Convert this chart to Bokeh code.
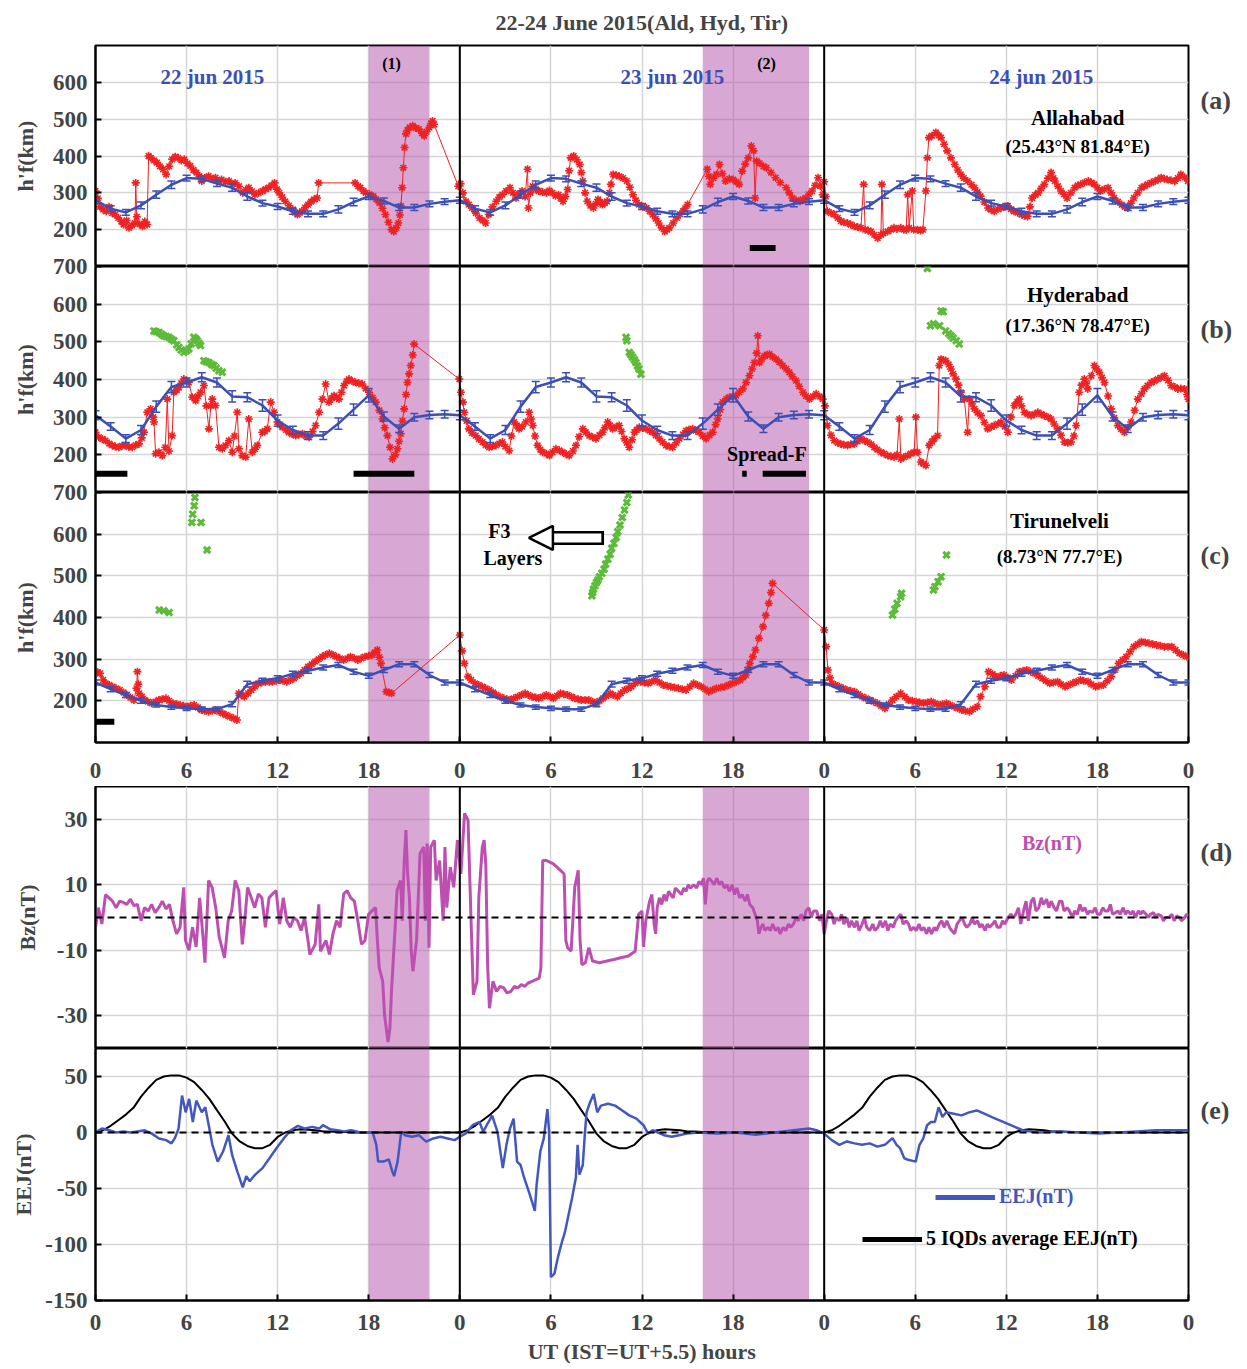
from bokeh.plotting import figure
from bokeh.models import (ColumnDataSource, Whisker, TeeHead, BoxAnnotation, Span, Label,
                          FixedTicker, Range1d, Legend, LegendItem, Arrow, NormalHead, LinearAxis)
from bokeh.layouts import column
from bokeh.embed import file_html
from bokeh.resources import INLINE

# ---------------- data ----------------
xticks = [0, 6, 12, 18, 24, 30, 36, 42, 48, 54, 60, 66, 72]
xtick_labels = ["0", "6", "12", "18", "0", "6", "12", "18", "0", "6", "12", "18", "0"]
day_bounds = [24, 48]
storm_start = [18, 40]
storm_end = [22, 47]
storm_names = ["(1)", "(2)"]
day_names = ["22 jun 2015", "23 jun 2015", "24 jun 2015"]
panel_tags = ["(a)", "(b)", "(c)", "(d)", "(e)"]

# quiet-day mean h'F (hourly, km) and error half-widths
ald_quiet = [280, 257, 247, 266, 295, 322, 340, 338, 325, 314, 290, 272, 263, 250, 243, 243, 255, 275, 290, 278, 260, 260, 270, 276]
ald_err = [8, 8, 8, 9, 10, 10, 8, 8, 8, 10, 10, 8, 8, 8, 8, 8, 10, 10, 8, 8, 8, 8, 8, 8]
hyd_quiet = [305, 275, 243, 266, 328, 380, 392, 406, 392, 355, 353, 331, 291, 266, 251, 251, 283, 320, 358, 302, 269, 300, 306, 308]
hyd_err = [12, 10, 10, 12, 15, 15, 12, 12, 12, 15, 12, 15, 15, 10, 10, 10, 15, 15, 18, 12, 10, 10, 10, 10]
tir_quiet = [244, 228, 214, 200, 190, 185, 182, 180, 180, 192, 240, 248, 254, 265, 272, 280, 286, 270, 260, 274, 288, 288, 262, 244]
tir_err = [6, 6, 6, 6, 5, 5, 5, 5, 5, 6, 7, 6, 6, 6, 6, 6, 6, 6, 6, 6, 6, 6, 6, 6]

# observed h'F, Allahabad (hour, km)
ald_obs = [(0.0,305),(0.15,285),(0.3,262),(0.5,255),(0.7,250),(0.9,262),(1.1,245),(1.3,241),(1.5,232),(1.7,222),(1.85,214),(2.05,225),(2.2,205),(2.4,212),(2.6,218),(2.65,327),(2.72,235),(2.9,215),(3.1,209),(3.25,222),(3.4,214),(3.5,400),(3.65,395),(3.85,388),(4.05,382),(4.25,372),(4.45,364),(4.65,350),(4.85,372),(5.05,391),(5.25,398),(5.45,395),(5.65,388),(5.85,391),(6.05,380),(6.25,373),(6.45,362),(6.65,355),(6.85,345),(7.0,332),(7.2,340),(7.45,345),(7.7,338),(7.9,341),(8.1,332),(8.3,336),(8.55,330),(8.8,332),(9.0,324),(9.2,327),(9.45,318),(9.7,300),(9.9,308),(10.1,314),(10.3,304),(10.5,295),(10.75,300),(11.0,305),(11.2,310),(11.4,314),(11.6,320),(11.8,327),(11.95,310),(12.1,300),(12.3,288),(12.5,277),(12.75,265),(13.0,255),(13.15,246),(13.3,241),(13.45,246),(13.6,250),(13.8,260),(14.0,268),(14.2,276),(14.4,282),(14.6,286),(14.7,327),(17.1,327),(17.3,318),(17.45,314),(17.65,305),(17.8,300),(18.05,296),(18.3,291),(18.5,282),(18.7,273),(18.9,258),(19.1,241),(19.3,220),(19.5,200),(19.65,195),(19.8,205),(19.95,218),(20.05,240),(20.12,264),(20.2,314),(20.28,368),(20.36,423),(20.45,460),(20.55,470),(20.7,478),(20.9,482),(21.1,476),(21.3,473),(21.5,462),(21.65,455),(21.8,466),(22.0,477),(22.1,488),(22.2,495),(22.3,486),(23.9,318),
           (24.05,325),(24.2,300),(24.4,277),(24.6,268),(24.8,259),(25.05,245),(25.3,232),(25.5,225),(25.7,218),(25.9,241),(26.15,262),(26.4,277),(26.6,288),(26.8,295),(27.05,305),(27.3,314),(27.5,300),(27.7,286),(27.9,296),(28.1,305),(28.3,290),(28.46,364),(28.52,259),(28.65,300),(28.8,318),(29.0,310),(29.2,305),(29.45,302),(29.7,300),(29.9,306),(30.1,300),(30.3,292),(30.5,295),(30.65,285),(30.8,277),(30.95,290),(31.1,309),(31.2,360),(31.3,395),(31.5,400),(31.7,390),(31.9,377),(32.0,355),(32.1,332),(32.25,300),(32.4,277),(32.6,265),(32.8,259),(32.95,270),(33.1,282),(33.25,275),(33.4,268),(33.55,272),(33.7,277),(33.85,300),(33.95,323),(34.1,350),(34.3,348),(34.5,345),(34.75,340),(35.0,332),(35.2,315),(35.4,295),(35.6,280),(35.8,268),(36.05,262),(36.3,259),(36.5,250),(36.7,241),(36.9,230),(37.1,218),(37.3,205),(37.5,195),(37.65,200),(37.8,205),(38.05,218),(38.3,232),(38.5,242),(38.7,250),(38.85,258),(39.0,268),(40.3,364),(40.4,345),(40.5,323),(40.7,340),(40.9,350),(41.1,377),(41.3,352),(41.5,332),(41.75,338),(42.0,336),(42.2,330),(42.4,323),(42.6,359),(42.8,378),(43.0,395),(43.2,427),(43.35,414),(43.45,286),(43.55,386),(43.75,380),(44.0,372),(44.2,368),(44.5,355),(44.8,341),(45.1,328),(45.5,314),(45.7,300),(45.9,286),(46.15,280),(46.4,277),(46.6,282),(46.8,286),(47.0,296),(47.2,305),(47.4,320),(47.6,341),(47.75,318),(47.9,295),
           (48.0,330),(48.1,290),(48.2,250),(48.45,245),(48.66,241),(48.9,232),(49.1,223),(49.3,220),(49.54,218),(49.75,214),(49.98,209),(50.2,207),(50.42,205),(50.6,323),(50.7,200),(50.9,198),(51.08,195),(51.3,186),(51.52,177),(51.74,186),(51.8,323),(51.9,190),(52.18,195),(52.4,200),(52.6,205),(52.8,202),(53.05,205),(53.25,200),(53.4,200),(53.5,295),(53.6,205),(53.8,305),(53.9,200),(54.15,200),(54.35,198),(54.5,200),(54.7,305),(54.8,395),(54.9,450),(55.1,455),(55.36,464),(55.55,456),(55.7,450),(55.9,432),(56.1,414),(56.35,395),(56.6,377),(56.8,362),(57.0,350),(57.2,340),(57.45,332),(57.7,322),(57.9,314),(58.1,302),(58.3,291),(58.55,275),(58.8,259),(59.0,254),(59.2,250),(59.45,256),(59.65,259),(59.9,262),(60.1,264),(60.3,256),(60.5,250),(60.75,246),(61.0,241),(61.2,238),(61.4,236),(61.55,262),(61.7,286),(61.9,294),(62.1,300),(62.3,312),(62.5,323),(62.75,340),(62.95,355),(63.1,340),(63.2,332),(63.4,318),(63.6,305),(63.8,296),(64.0,286),(64.25,300),(64.5,314),(64.7,320),(64.9,323),(65.15,328),(65.4,332),(65.6,328),(65.8,323),(66.0,314),(66.2,305),(66.45,310),(66.7,314),(66.9,300),(67.1,286),(67.35,276),(67.6,268),(67.8,262),(68.0,259),(68.2,272),(68.4,286),(68.65,300),(68.9,314),(69.1,318),(69.3,323),(69.55,328),(69.8,332),(70.0,336),(70.2,341),(70.4,338),(70.6,336),(70.85,334),(71.1,332),(71.3,340),(71.5,350),(71.75,342),(71.96,332)]

# observed h'F, Hyderabad
hyd_obs = [(0.0,260),(0.22,247),(0.45,242),(0.66,238),(0.9,230),(1.1,225),(1.3,222),(1.54,220),(1.75,224),(1.98,225),(2.2,221),(2.42,220),(2.65,226),(2.86,229),(3.05,245),(3.19,260),(3.41,313),(3.63,322),(3.8,300),(3.85,287),(3.96,203),(4.18,207),(4.4,198),(4.6,220),(4.73,348),(4.84,210),(5.05,251),(5.16,366),(5.35,372),(5.5,379),(5.65,390),(5.82,401),(6.0,396),(6.15,392),(6.37,353),(6.59,344),(6.75,356),(6.92,366),(7.14,384),(7.3,330),(7.47,269),(7.6,330),(7.69,348),(7.91,331),(8.13,220),(8.35,216),(8.57,225),(8.79,238),(9.01,207),(9.15,250),(9.34,313),(9.45,216),(9.67,198),(9.89,194),(10.1,295),(10.33,207),(10.5,215),(10.66,225),(10.99,260),(11.15,262),(11.32,269),(11.54,340),(11.76,313),(11.98,287),(12.15,280),(12.31,273),(12.55,266),(12.75,260),(12.95,255),(13.19,251),(13.4,254),(13.63,256),(13.85,250),(14.07,247),(14.3,262),(14.5,278),(14.73,313),(14.95,348),(15.16,388),(15.38,340),(15.55,350),(15.71,357),(15.9,352),(16.04,348),(16.2,366),(16.37,384),(16.55,395),(16.7,401),(16.9,396),(17.14,392),(17.35,390),(17.58,388),(17.8,376),(18.02,366),(18.25,352),(18.46,340),(18.7,318),(18.9,295),(19.05,272),(19.23,251),(19.4,220),(19.56,189),(19.75,200),(19.89,216),(20.0,236),(20.11,256),(20.22,290),(20.33,322),(20.45,360),(20.55,392),(20.66,415),(20.77,437),(20.9,465),(20.99,494),(23.96,401),
           (24.07,366),(24.2,340),(24.29,313),(24.45,290),(24.6,269),(24.8,258),(25.05,251),(25.25,242),(25.5,234),(25.7,226),(25.93,220),(26.15,223),(26.37,225),(26.6,230),(26.8,234),(27.0,222),(27.25,211),(27.4,250),(27.58,287),(27.75,278),(27.9,269),(28.1,275),(28.35,287),(28.57,313),(28.7,295),(28.8,278),(28.95,250),(29.12,225),(29.3,214),(29.45,207),(29.7,203),(29.9,198),(30.1,207),(30.33,216),(30.55,212),(30.77,207),(31.0,202),(31.2,198),(31.45,210),(31.65,225),(31.85,248),(32.1,269),(32.3,260),(32.53,251),(32.75,247),(32.97,243),(33.2,252),(33.4,260),(33.55,272),(33.74,287),(33.9,278),(34.07,269),(34.3,274),(34.5,278),(34.65,262),(34.84,243),(35.0,232),(35.16,220),(35.35,240),(35.5,260),(35.65,266),(35.82,273),(36.05,271),(36.26,269),(36.5,264),(36.7,260),(36.9,252),(37.14,243),(37.35,234),(37.58,225),(37.8,222),(38.02,220),(38.25,232),(38.46,243),(38.7,254),(38.9,264),(39.1,267),(39.34,269),(39.55,264),(39.78,260),(40.0,250),(40.22,243),(40.45,252),(40.66,260),(40.85,280),(40.99,295),(41.15,320),(41.32,340),(41.55,348),(41.76,353),(42.0,355),(42.2,357),(42.4,366),(42.64,375),(42.85,392),(43.08,410),(43.25,428),(43.4,445),(43.55,470),(43.63,516),(43.74,445),(43.9,455),(44.07,463),(44.25,466),(44.4,467),(44.6,460),(44.84,454),(45.05,446),(45.27,437),(45.5,428),(45.71,419),(45.9,408),(46.15,397),(46.35,382),(46.6,366),(46.8,356),(47.03,348),(47.25,355),(47.47,362),(47.7,355),(47.9,348),
           (48.05,330),(48.22,278),(48.45,252),(48.66,238),(48.9,232),(49.1,229),(49.3,227),(49.54,225),(49.75,228),(49.98,229),(50.2,236),(50.42,243),(50.65,238),(50.86,234),(51.1,228),(51.3,220),(51.5,214),(51.74,207),(51.95,203),(52.18,198),(52.4,196),(52.6,194),(52.8,200),(52.95,295),(53.05,189),(53.25,194),(53.5,198),(53.7,203),(53.93,207),(54.04,300),(54.15,207),(54.37,181),(54.55,176),(54.7,172),(54.92,225),(55.1,235),(55.25,243),(55.47,251),(55.58,437),(55.7,454),(55.85,452),(56.0,450),(56.2,440),(56.35,428),(56.5,415),(56.68,401),(56.85,385),(57.0,366),(57.23,348),(57.45,260),(57.56,348),(57.75,335),(57.9,322),(58.1,312),(58.33,304),(58.55,286),(58.77,269),(59.0,274),(59.2,278),(59.45,282),(59.65,287),(59.9,275),(60.1,260),(60.3,300),(60.53,331),(60.7,340),(60.86,348),(61.0,330),(61.19,313),(61.4,308),(61.63,304),(61.85,308),(62.07,313),(62.3,308),(62.5,304),(62.75,300),(62.95,295),(63.15,282),(63.38,269),(63.6,252),(63.82,234),(64.05,232),(64.26,234),(64.45,250),(64.6,278),(64.8,366),(64.95,385),(65.14,401),(65.25,390),(65.36,375),(65.6,410),(65.8,437),(65.95,428),(66.13,419),(66.3,405),(66.46,392),(66.7,356),(66.9,322),(67.1,298),(67.34,278),(67.55,268),(67.78,260),(68.0,272),(68.22,287),(68.45,318),(68.66,348),(68.9,362),(69.1,375),(69.3,384),(69.54,392),(69.75,396),(69.98,401),(70.2,405),(70.42,410),(70.65,398),(70.86,384),(71.1,380),(71.3,375),(71.5,376),(71.74,375),(71.9,360),(72.0,348)]

# observed h'F, Tirunelveli
tir_obs = [(0.0,270),(0.15,268),(0.3,266),(0.5,250),(0.66,242),(0.9,238),(1.12,234),(1.35,230),(1.6,226),(1.85,220),(2.06,214),(2.3,208),(2.53,202),(2.7,230),(2.76,270),(2.82,240),(2.88,218),(3.05,210),(3.23,202),(3.45,198),(3.7,194),(3.95,198),(4.17,202),(4.4,204),(4.64,206),(4.85,200),(5.1,194),(5.35,192),(5.57,190),(5.8,188),(6.04,186),(6.25,188),(6.5,190),(6.75,184),(6.98,178),(7.2,176),(7.45,174),(7.7,176),(7.9,178),(8.15,174),(8.38,170),(8.6,166),(8.85,162),(9.1,158),(9.32,154),(9.44,218),(9.6,214),(9.8,210),(10.05,218),(10.26,226),(10.5,234),(10.73,242),(10.95,244),(11.2,246),(11.45,246),(11.66,246),(11.9,248),(12.13,250),(12.35,248),(12.6,246),(12.85,250),(13.07,254),(13.3,260),(13.54,266),(13.77,274),(14.0,282),(14.25,288),(14.47,294),(14.7,300),(14.94,306),(15.15,310),(15.4,314),(15.65,310),(15.88,306),(16.1,302),(16.35,298),(16.6,302),(16.8,306),(17.05,302),(17.28,298),(17.5,302),(17.75,306),(18.0,308),(18.2,310),(18.4,316),(18.57,322),(18.7,305),(18.8,290),(19.16,222),(19.35,220),(19.5,218),(24.0,358),
           (24.15,320),(24.3,290),(24.54,258),(24.75,250),(25.0,242),(25.25,238),(25.48,234),(25.7,230),(25.95,226),(26.2,220),(26.4,214),(26.65,210),(26.9,206),(27.1,204),(27.35,202),(27.55,206),(27.8,210),(28.05,214),(28.3,218),(28.5,214),(28.76,210),(29.0,208),(29.2,206),(29.45,210),(29.7,214),(29.95,210),(30.16,206),(30.4,212),(30.63,218),(30.85,216),(31.1,214),(31.35,210),(31.57,206),(31.8,204),(32.0,202),(32.25,202),(32.5,202),(32.75,198),(33.0,194),(33.2,200),(33.44,206),(33.65,212),(33.9,218),(34.1,214),(34.38,210),(34.6,218),(34.85,226),(35.1,230),(35.3,234),(35.55,242),(35.8,250),(35.9,246),(36.15,244),(36.4,242),(36.65,246),(36.9,250),(37.15,244),(37.4,238),(37.65,236),(37.9,234),(38.15,232),(38.4,230),(38.65,228),(38.9,226),(39.15,234),(39.4,242),(39.65,238),(39.9,234),(40.15,228),(40.4,222),(40.65,226),(40.9,230),(41.2,232),(41.45,234),(41.7,238),(41.95,242),(42.2,246),(42.46,250),(42.65,256),(42.84,262),(43.0,275),(43.1,290),(43.3,306),(43.47,322),(43.7,350),(43.97,378),(44.15,405),(44.35,434),(44.5,460),(44.6,482),(48.0,370),
           (48.13,330),(48.25,274),(48.38,255),(48.5,242),(48.75,238),(49.0,234),(49.25,230),(49.5,226),(49.75,224),(50.0,222),(50.25,216),(50.5,210),(50.75,206),(51.0,202),(51.25,198),(51.5,194),(51.75,188),(52.0,182),(52.25,192),(52.5,202),(52.75,210),(53.04,218),(53.3,210),(53.54,202),(53.8,200),(54.05,198),(54.3,196),(54.55,194),(54.8,196),(55.05,198),(55.3,194),(55.56,190),(55.8,192),(56.06,194),(56.3,190),(56.56,186),(56.8,182),(57.07,178),(57.3,176),(57.57,174),(57.8,180),(58.08,186),(58.3,210),(58.58,234),(58.83,270),(59.1,264),(59.33,258),(59.6,260),(59.84,262),(60.1,256),(60.34,250),(60.6,260),(60.85,270),(61.1,272),(61.35,274),(61.6,270),(61.85,266),(62.1,260),(62.36,254),(62.6,248),(62.86,242),(63.1,244),(63.37,246),(63.6,240),(63.87,234),(64.1,238),(64.37,242),(64.6,246),(64.88,250),(65.1,248),(65.38,246),(65.6,240),(65.88,234),(66.1,236),(66.39,238),(66.65,248),(66.9,258),(67.15,274),(67.4,290),(67.65,298),(67.9,306),(68.15,318),(68.4,330),(68.65,336),(68.9,342),(69.15,340),(69.4,338),(69.65,336),(69.9,334),(70.15,332),(70.4,330),(70.65,330),(70.9,330),(71.15,322),(71.4,314),(71.65,310),(71.9,306)]

# F3 layer heights
hyd_f3 = [(3.85,529),(4.0,527),(4.18,525),(4.35,520),(4.5,516),(4.65,514),(4.84,512),(5.0,507),(5.16,503),(5.35,492),(5.5,485),(5.65,478),(5.82,472),(6.0,476),(6.15,481),(6.3,495),(6.48,512),(6.6,508),(6.7,503),(6.82,496),(6.92,490),(7.14,450),(7.3,447),(7.47,445),(7.65,440),(7.8,437),(7.95,430),(8.13,423),(8.35,419),
          (34.95,512),(35.0,503),(35.16,472),(35.27,466),(35.38,459),(35.5,452),(35.6,445),(35.7,436),(35.8,428),(35.93,414),
          (54.8,695),(55.0,543),(55.2,548),(55.6,543),(55.7,582),(55.85,580),(56.0,529),(56.2,522),(56.35,516),(56.5,510),(56.7,503),(56.9,494)]
tir_f3 = [(4.2,418),(4.5,416),(4.85,412),(6.55,688),(6.5,668),(6.4,648),(6.35,628),(6.95,628),(7.35,562),
          (32.7,452),(32.75,460),(32.8,468),(32.9,476),(33.0,484),(33.1,490),(33.2,498),(33.35,506),(33.5,516),(33.6,528),(33.75,540),(33.9,552),(34.0,566),(34.15,578),(34.3,592),(34.4,606),(34.55,622),(34.7,640),(34.85,658),(35.0,676),(35.1,694),
          (52.5,406),(52.65,420),(52.8,434),(53.04,450),(53.1,458),(55.2,466),(55.3,474),(55.5,486),(55.7,498),(56.06,550)]

# spread-F intervals (start hour, end hour)
ald_sf = [(43.1, 44.8)]
hyd_sf = [(0.0, 2.1), (17.0, 21.0), (42.6, 42.9), (43.95, 46.8)]
tir_sf = [(0.0, 1.24)]

# IMF Bz (hour, nT)
bz_obs = [(0.0,-3),(0.19,3),(0.42,-2),(0.66,7),(0.89,6),(1.12,5),(1.36,3),(1.59,5),(1.83,4.6),(2.06,4),(2.3,5.6),(2.53,3.6),(2.76,4),(3.0,-1),(3.23,3),(3.47,2),(3.7,4),(3.93,1.5),(4.17,3),(4.4,5),(4.64,2.6),(4.87,4),(5.1,-1),(5.34,-5),(5.57,-3),(5.81,9.2),(5.93,-7),(6.16,-10),(6.39,-3),(6.63,-9),(6.86,6),(7.1,-7),(7.21,-13.8),(7.45,11.3),(7.68,9.2),(7.92,3),(8.15,-6),(8.5,-12.3),(8.74,-1),(8.97,2),(9.2,11.3),(9.44,8.2),(9.67,-8.2),(9.79,-3),(10.02,9.2),(10.26,6),(10.49,3),(10.73,7.2),(10.96,6),(11.19,-3),(11.43,6),(11.66,7.2),(11.9,8.2),(12.13,-2),(12.37,6),(12.6,-1),(12.83,-3),(13.07,0),(13.3,-1),(13.54,-4),(13.77,0),(14.0,-7),(14.12,-11.3),(14.47,-8.2),(14.71,4),(14.82,-10.3),(15.18,-7),(15.41,-11.3),(15.64,-5),(15.88,-1),(16.11,-3),(16.35,7.2),(16.58,8.2),(16.81,6),(17.05,5),(17.28,-1),(17.52,-8.2),(17.75,-7),(17.99,1),(18.22,2),(18.45,3),(18.57,-7),(18.69,-15.4),(18.92,-19.5),(19.04,-29.7),(19.27,-38),(19.39,-34),(19.51,-21.5),(19.74,-3),(19.86,8.2),(20.09,11.3),(20.21,-1),(20.33,16.4),(20.45,26.7),(20.56,13.3),(20.68,6),(20.8,-10.3),(20.91,-16.4),(21.15,-7),(21.38,19.5),(21.62,21.5),(21.73,-1),(21.85,22.6),(21.97,-9.2),(22.08,21.5),(22.32,23.6),(22.44,11.3),(22.67,17.4),(22.9,-1),(23.02,21.5),(23.14,3),(23.37,15.4),(23.6,9.2),(23.84,23.6),
          (24.07,13.3),(24.31,31.8),(24.54,29.7),(24.66,11.3),(24.78,-7),(24.89,-23.6),(25.13,-19.5),(25.25,6),(25.48,21.5),(25.6,23.6),(25.71,16.4),(25.83,-14.4),(25.95,-27.7),(26.18,-19.5),(26.42,-22.6),(26.65,-21),(26.89,-21.5),(27.1,-23),(27.35,-22.6),(27.6,-21),(27.82,-21.5),(28.05,-20.5),(28.29,-21),(28.5,-20),(28.76,-19.5),(29.0,-19),(29.23,-18.5),(29.34,-15.4),(29.46,17.4),(29.7,17.4),(29.93,16.9),(30.16,16.4),(30.4,15.4),(30.63,14.4),(30.87,13.3),(30.98,-7),(31.1,-9.2),(31.33,-10.3),(31.57,9.2),(31.8,14.4),(31.92,-7),(32.04,-14.4),(32.27,-13.8),(32.5,-9.2),(32.74,-13.3),(33.2,-13.8),(33.68,-13.3),(34.15,-12.8),(34.6,-12.3),(35.08,-11.8),(35.55,-10.3),(35.78,1),
          (36.0,2),(36.1,-9),(36.25,-1),(36.5,5),(36.65,7),(36.8,-2),(36.9,-5),(37.0,3),(37.15,6),(37.3,4),(37.45,7),(37.6,5),(37.75,8),(37.9,7),(38.05,6),(38.2,9),(38.4,8),(38.6,7),(38.75,9),(38.9,8),(39.05,10),(39.2,9),(39.4,10),(39.6,9),(39.75,11),(39.9,10),(40.05,12),(40.17,4),(40.3,11),(40.42,12),(40.6,11),(40.75,10),(40.93,12),(41.1,10),(41.25,11),(41.43,9),(41.6,10),(41.75,8),(41.94,10),(42.1,7),(42.25,9),(42.44,6),(42.6,7),(42.8,5),(42.95,7),(43.1,4),(43.3,3),(43.45,1),(43.6,-1),(43.7,-5),(43.85,-3),(43.96,-2),(44.1,-4),(44.3,-3),(44.46,-4),(44.6,-2),(44.8,-4),(44.97,-3),(45.1,-5),(45.3,-3),(45.47,-4),(45.65,-2),(45.8,-3),(45.98,-2),(46.15,0),(46.3,-1),(46.48,1),(46.65,-1),(46.8,2),(46.99,3),(47.15,0),(47.3,2),(47.5,2),(47.7,-1),(47.85,1),
          (48.0,-5),(48.15,-1),(48.3,2),(48.5,1),(48.65,-2),(48.8,0),(49.0,-1),(49.15,1),(49.3,-2),(49.5,0),(49.65,-3),(49.8,-1),(50.0,-3),(50.15,-1),(50.3,-4),(50.5,-2),(50.65,0),(50.8,-3),(51.0,-4),(51.2,-2),(51.35,-4),(51.54,-3),(51.7,-1),(51.85,-3),(52.04,-1),(52.2,-4),(52.35,-2),(52.55,-3),(52.7,-1),(52.85,0),(53.05,1),(53.2,-2),(53.4,-1),(53.56,-2),(53.7,-4),(53.9,-3),(54.06,-4),(54.25,-2),(54.4,-4),(54.57,-3),(54.75,-5),(54.9,-3),(55.07,-5),(55.25,-3),(55.4,-4),(55.58,-2),(55.75,-1),(55.9,-3),(56.08,-1),(56.25,-3),(56.4,-4),(56.59,-5),(56.75,-2),(56.9,-1),(57.09,0),(57.25,-2),(57.4,-3),(57.6,-2),(57.75,0),(57.9,-2),(58.1,-1),(58.25,-3),(58.4,-2),(58.6,-4),(58.75,-2),(58.9,-3),(59.1,-2),(59.25,-1),(59.4,-3),(59.6,-3),(59.75,-1),(59.9,-2),(60.12,0),(60.3,1),(60.45,0),(60.63,1),(60.8,3),(60.95,-2),(61.13,2),(61.3,5),(61.45,-1),(61.64,5),(61.8,6),(61.95,2),(62.14,3),(62.3,6),(62.45,4),(62.65,5.6),(62.8,3),(62.95,5),(63.15,3),(63.3,2),(63.5,5),(63.66,5),(63.8,2),(64.0,3),(64.16,2),(64.35,0),(64.5,2),(64.67,1),(64.85,4),(65.0,2),(65.17,3),(65.35,1),(65.5,2),(65.68,1.5),(65.85,3),(66.0,1),(66.18,1),(66.35,3),(66.5,2),(66.7,2),(66.85,4),(67.0,1),(67.2,1.5),(67.35,2),(67.5,1),(67.7,3),(67.85,1),(68.0,2),(68.2,1),(68.35,2),(68.5,0),(68.7,2),(68.85,1),(69.0,2),(69.2,1),(69.35,0),(69.5,1),(69.7,1.5),(69.85,0),(70.0,1),(70.2,0.5),(70.35,-1),(70.5,0),(70.73,0),(70.9,1),(71.05,-1),(71.23,0.5),(71.4,0),(71.55,-1),(71.74,0),(71.9,1),(72.0,0.5)]

# EEJ (hour, nT)
eej_obs = [(0.0,0),(0.42,3.5),(0.89,2),(1.36,0),(1.83,1),(2.3,0),(2.77,1),(3.24,2),(3.71,-1),(4.18,-5.3),(4.65,-6.8),(5.0,-9.7),(5.23,-5),(5.47,3.5),(5.7,33),(5.94,18),(6.17,30),(6.41,9.4),(6.64,28.5),(7.0,18),(7.23,22.6),(7.46,6.5),(7.7,-11),(8.05,-26),(8.4,-17),(8.76,-2.4),(9.0,-20),(9.34,-34.7),(9.7,-49),(9.93,-39),(10.16,-43.5),(10.52,-37.6),(11.0,-31.8),(11.46,-23),(11.92,-14),(12.4,-5.3),(12.86,2),(13.33,5.9),(13.8,3.5),(14.27,5),(14.74,3.5),(14.98,6.5),(15.45,3),(15.92,2),(16.38,1),(16.85,2),(17.32,0.5),(17.8,0),(18.26,0),(18.5,-11),(18.62,-26),(18.97,-26),(19.32,-24),(19.55,-34.7),(19.67,-39),(19.9,-26),(20.14,0.5),(20.38,-2.4),(20.85,-3.8),(21.3,-2.4),(21.78,-8.2),(22.25,-5.3),(22.72,-3.8),(23.2,-5.3),(23.66,-6.8),(24.0,-3.8),
           (24.37,-1),(24.84,6.5),(25.3,9.4),(25.54,0.5),(25.77,6.5),(26.13,15),(26.48,0.5),(26.83,-31.8),(27.07,-11),(27.3,3.5),(27.54,12.4),(27.77,-26),(28.0,-29),(28.24,-40.6),(28.6,-55),(28.94,-70),(29.06,-46.5),(29.3,-17),(29.53,-5.3),(29.77,21),(29.88,0.5),(30.0,-129),(30.23,-126),(30.47,-111),(30.7,-99),(30.94,-88),(31.17,-73),(31.4,-58),(31.64,-40.6),(31.76,-11),(31.88,-37.6),(32.1,-29),(32.23,-2.4),(32.35,18),(32.58,27),(32.82,34.4),(33.05,18),(33.3,24),(33.76,25.6),(34.23,24),(34.7,19.7),(35.16,15.3),(35.63,12.4),(36.1,6.5),(36.4,-1),(36.7,2),(37.45,-2.4),(37.95,-3.8),(38.45,-2.4),(38.95,-1),(39.7,0),(40.96,-1),(42.2,0),(43.48,-2),(44.73,0),(46.0,2),(47.0,3.5),(47.5,2),
           (48.0,-1),(48.5,-6.8),(49.0,-11),(49.5,-8),(50.0,-9.7),(50.5,-11),(51.0,-9.7),(51.5,-12.6),(52.0,-11),(52.5,-5),(52.77,-11),(53.0,-14),(53.28,-23),(53.53,-24.4),(54.03,-26),(54.28,-11),(54.53,-5.3),(54.78,6.5),(55.03,9.4),(55.29,9.4),(55.54,22.6),(55.79,13.8),(56.04,18),(56.54,16.8),(57.05,15.3),(57.55,18),(58.05,19.7),(58.55,16.8),(59.05,13.8),(59.56,10.9),(60.06,7.9),(60.56,5),(61.07,2),(61.57,1),(62.07,0),(63.58,1),(64.83,0),(66.09,-1),(67.35,0),(68.6,1),(69.86,2),(71.1,2),(72.0,2)]

# 5 IQDs average EEJ, half-hourly over one day (nT)
iqd_daily = [0, 2, 6, 11, 16, 22, 32, 40, 47, 50, 51, 51, 49, 45, 38, 30, 20, 10, -1, -8,
             -12, -14, -14, -11, -4, 0, 2, 3, 2.5, 2, 1, 1, 0.5, 0.5, 0, 0, 0, 0, 0, 0,
             0, 0, 0, 0, 0, 0, 0, 0]

# ---------------- styles ----------------
FONT = "Liberation Serif"
RED = "#EE2222"
QBLUE = "#3B4FB5"
GREEN = "#5DBB3A"
MAG = "#BD4FB0"
EEJBLUE = "#4357BC"
SHADE = "#B24FAA"
GRIDC = "#D6D6D6"
W = 1240
LEFT, RIGHT = 95, 52
NAN = float("nan")


def unzip(pairs):
    return [a for a, _ in pairs], [b for _, b in pairs]


def tile(daily, step):
    n = len(daily)
    xs = [d * 24 + i * step for d in range(3) for i in range(n)] + [72]
    ys = list(daily) * 3 + [daily[0]]
    return xs, ys


def style_axis(ax, lab_standoff, title_standoff):
    ax.major_tick_in = 6
    ax.major_tick_out = 0
    ax.minor_tick_line_color = None
    ax.axis_line_width = 2
    ax.major_tick_line_width = 2
    ax.major_label_text_font = FONT
    ax.major_label_text_font_style = "bold"
    ax.major_label_text_font_size = "23px"
    ax.major_label_standoff = lab_standoff
    ax.axis_label_text_font = FONT
    ax.axis_label_text_font_style = "bold"
    ax.axis_label_text_font_size = "22px"
    ax.axis_label_standoff = title_standoff


def make_panel(height, yr, yticks, ylabel, tag, tag_y, top=0, bottom=0, xaxis=False,
               overlap=0, title=None, title_standoff=12, xlab_standoff=10):
    kw = {}
    if title:
        kw["title"] = title
    p = figure(width=W, height=height, x_range=Range1d(0, 72), y_range=Range1d(*yr),
               output_backend="svg", toolbar_location=None,
               x_axis_location="below" if xaxis else None,
               min_border_left=LEFT, min_border_right=RIGHT,
               min_border_top=top, min_border_bottom=bottom, **kw)
    p.border_fill_color = None
    p.background_fill_color = "white"
    p.outline_line_color = "black"
    p.outline_line_width = 2
    p.xgrid.ticker = FixedTicker(ticks=xticks)
    p.ygrid.ticker = FixedTicker(ticks=yticks)
    for g in (p.xgrid, p.ygrid):
        g.grid_line_color = GRIDC
        g.grid_line_width = 1.5
    ya = p.yaxis[0]
    ya.ticker = FixedTicker(ticks=yticks)
    ya.major_label_overrides = {t: str(t) for t in yticks}
    ya.axis_label = ylabel
    style_axis(ya, 8, title_standoff)
    # panel tag on the right side
    ra = LinearAxis(ticker=FixedTicker(ticks=[tag_y]), major_label_overrides={tag_y: tag})
    style_axis(ra, 12, 0)
    ra.major_tick_in = 0
    ra.axis_line_color = None
    ra.major_tick_line_color = None
    ra.major_label_text_font_size = "26px"
    p.add_layout(ra, "right")
    if xaxis:
        xa = p.xaxis[0]
        xa.ticker = FixedTicker(ticks=xticks)
        xa.major_label_overrides = {t: s for t, s in zip(xticks, xtick_labels)}
        style_axis(xa, xlab_standoff, 6)
    for s, e in zip(storm_start, storm_end):
        p.add_layout(BoxAnnotation(left=s, right=e, fill_color=SHADE, fill_alpha=0.5,
                                   line_color=None, level="underlay"))
    for b in day_bounds:
        p.add_layout(Span(location=b, dimension="height", line_color="black", line_width=2))
    if overlap:
        p.margin = (-overlap, 0, 0, 0)
    return p


def label(p, x, y, text, size, color="black", align="center", baseline="middle"):
    p.add_layout(Label(x=x, y=y, text=text, text_font=FONT, text_font_style="bold",
                       text_font_size=f"{size}px", text_color=color,
                       text_align=align, text_baseline=baseline))


def hf_panel(p, obs, quiet, err, f3=None, sf=None):
    ox, oy = unzip(obs)
    p.line(ox, oy, line_color=RED, line_width=1)
    p.scatter(ox, oy, marker="asterisk", size=8, line_color=RED, line_width=1.6)
    qx, qy = tile(quiet, 1.0)
    _, qe = tile(err, 1.0)
    src = ColumnDataSource(dict(x=qx, y=qy, lo=[a - b for a, b in zip(qy, qe)],
                                hi=[a + b for a, b in zip(qy, qe)]))
    p.add_layout(Whisker(source=src, base="x", upper="hi", lower="lo", line_color=QBLUE,
                         line_width=1.5, level="glyph",
                         upper_head=TeeHead(size=8, line_color=QBLUE, line_width=1.5),
                         lower_head=TeeHead(size=8, line_color=QBLUE, line_width=1.5)))
    p.line("x", "y", source=src, line_color=QBLUE, line_width=2.5)
    if f3:
        fx, fy = unzip(f3)
        p.scatter(fx, fy, marker="x", size=9, line_color=GREEN, line_width=3)
    if sf:
        s0, s1 = unzip(sf)
        p.segment(x0=s0, y0=[150] * len(s0), x1=s1, y1=[150] * len(s0),
                  line_color="black", line_width=6)


# ---------------- panels ----------------
pA = make_panel(266, (100, 700), [200, 300, 400, 500, 600], "h'f(km)", panel_tags[0], 550,
                top=44, title="22-24 June 2015(Ald, Hyd, Tir)")
pA.title.text_font = FONT
pA.title.text_font_style = "bold"
pA.title.text_font_size = "22px"
pA.title.align = "center"
pA.title.vertical_align = "top"
pA.title.standoff = 18
hf_panel(pA, ald_obs, ald_quiet, ald_err, sf=ald_sf)
for x, t in zip([7.7, 38.0, 62.3], day_names):
    label(pA, x, 615, t, 21, QBLUE)
for x, t in zip([19.5, 44.2], storm_names):
    label(pA, x, 652, t, 16)
label(pA, 64.7, 504, "Allahabad", 21)
label(pA, 64.7, 425, "(25.43°N 81.84°E)", 19)

pB = make_panel(238, (100, 700), [200, 300, 400, 500, 600, 700], "h'f(km)", panel_tags[1], 534,
                top=12, overlap=12)
hf_panel(pB, hyd_obs, hyd_quiet, hyd_err, f3=hyd_f3, sf=hyd_sf)
label(pB, 64.7, 625, "Hyderabad", 21)
label(pB, 64.7, 543, "(17.36°N 78.47°E)", 19)
label(pB, 41.6, 203, "Spread-F", 20, align="left")

pC = make_panel(306, (100, 700), [200, 300, 400, 500, 600, 700], "h'f(km)", panel_tags[2], 548,
                top=12, bottom=44, xaxis=True, overlap=12, xlab_standoff=20)
hf_panel(pC, tir_obs, tir_quiet, tir_err, f3=tir_f3, sf=tir_sf)
label(pC, 63.5, 632, "Tirunelveli", 21)
label(pC, 63.5, 546, "(8.73°N 77.7°E)", 19)
label(pC, 26.6, 607, "F3", 20)
label(pC, 27.5, 543, "Layers", 20)
pC.add_layout(Arrow(x_start=33.5, y_start=591, x_end=29.95, y_end=591, end=None,
                    line_color="black", line_width=14))
pC.add_layout(Arrow(x_start=33.32, y_start=591, x_end=29.95, y_end=591, end=None,
                    line_color="white", line_width=9))
pC.add_layout(Arrow(x_start=30.3, y_start=591, x_end=28.55, y_end=591, line_alpha=0,
                    end=NormalHead(size=24, fill_color="white", line_color="black",
                                   line_width=2.5)))

pD = make_panel(262, (-40, 40), [-30, -10, 10, 30], "Bz(nT)", panel_tags[3], 20,
                title_standoff=14)
pD.add_layout(Span(location=0, dimension="width", line_color="black", line_width=2,
                   line_dash="7 5"))
bx, by = unzip(bz_obs)
pD.line(bx, by, line_color=MAG, line_width=3)
label(pD, 63.0, 22.7, "Bz(nT)", 20, MAG)

pE = make_panel(320, (-150, 75), [-150, -100, -50, 0, 50], "EEJ(nT)", panel_tags[4], 20,
                bottom=68, xaxis=True, title_standoff=6, xlab_standoff=14)
pE.xaxis[0].axis_label = "UT (IST=UT+5.5) hours"
pE.add_layout(Span(location=0, dimension="width", line_color="black", line_width=2,
                   line_dash="7 5"))
ix, iy = tile(iqd_daily, 0.5)
r_iqd = pE.line(ix, iy, line_color="black", line_width=2)
ex, ey = unzip(eej_obs)
r_eej = pE.line(ex, ey, line_color=EEJBLUE, line_width=2.5)
# legend swatches (invisible NaN point, thicker sample lines as in the original key)
k_eej = pE.line([NAN], [NAN], line_color=EEJBLUE, line_width=5)
k_iqd = pE.line([NAN], [NAN], line_color="black", line_width=5)
for items, loc, col in (([LegendItem(label="EEJ(nT)", renderers=[k_eej])], (840, 92), EEJBLUE),
                        ([LegendItem(label="5 IQDs average EEJ(nT)", renderers=[k_iqd])], (767, 50), "black")):
    leg = Legend(items=items, location=loc, glyph_width=60, glyph_height=22, label_height=22,
                 padding=0, margin=0, spacing=0, label_standoff=4,
                 border_line_color=None, background_fill_color=None,
                 label_text_font=FONT, label_text_font_style="bold",
                 label_text_font_size="20px", label_text_color=col)
    pE.add_layout(leg)

layout = column(pA, pB, pC, pD, pE)
open("out.html", "w", encoding="utf-8").write(file_html(layout, INLINE))
